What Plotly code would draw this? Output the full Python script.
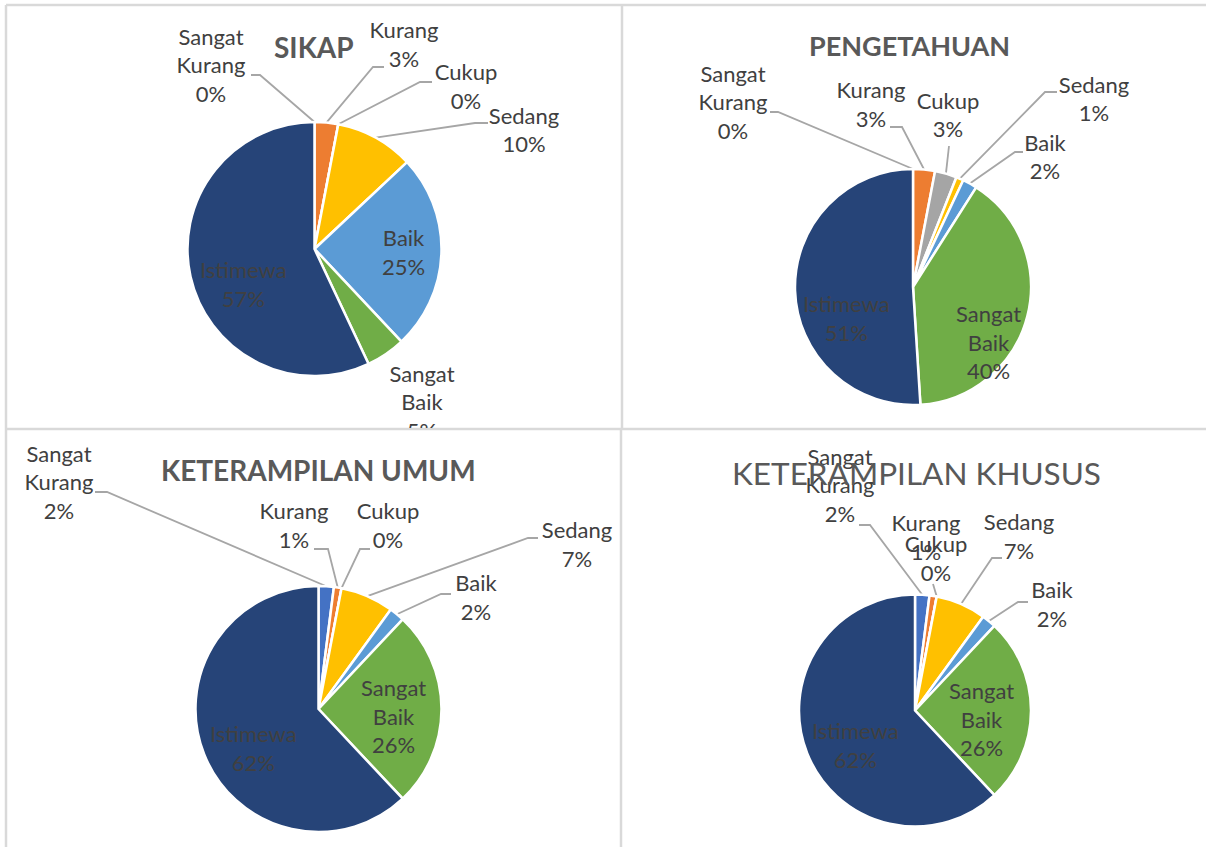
import math
import plotly.graph_objects as go

W, H = 1206, 847

# ---------------- data ----------------
CATEGORIES = ["Sangat Kurang", "Kurang", "Cukup", "Sedang", "Baik", "Sangat Baik", "Istimewa"]
LABEL_TEXT = ["Sangat<br>Kurang", "Kurang", "Cukup", "Sedang", "Baik", "Sangat<br>Baik", "Istimewa"]
SIKAP = [0, 3, 0, 10, 25, 5, 57]
PENGETAHUAN = [0, 3, 3, 1, 2, 40, 51]
KETERAMPILAN_UMUM = [2, 1, 0, 7, 2, 26, 62]
KETERAMPILAN_KHUSUS = [2, 1, 0, 7, 2, 26, 62]
TITLES = ["SIKAP", "PENGETAHUAN", "KETERAMPILAN UMUM", "KETERAMPILAN KHUSUS"]
SERIES = [SIKAP, PENGETAHUAN, KETERAMPILAN_UMUM, KETERAMPILAN_KHUSUS]

# ---------------- style ----------------
COLORS = ["#4472C4", "#ED7D31", "#A5A5A5", "#FFC000", "#5B9BD5", "#70AD47", "#264478"]
FONT = "Lato"
LABEL_COLOR = "#404040"
TITLE_COLOR = "#595959"
LABEL_SIZE = 22
LEADER_COLOR = "#A6A6A6"
BORDER_COLOR = "#D9D9D9"

# layout per panel (pixel units): panel box, pie centre/radius, title, label placement
PANELS = [
    dict(box=(6, 5, 622, 428), c=(314.5, 249), r=127,
         title=(314, 47), tbold=True, tsize=28,
         inside=[4, 6],
         lab={0: (211, 68), 1: (404, 47), 2: (466, 89), 3: (524, 132.5), 4: (404, 252),
              5: (422, 405), 6: (243, 284)},
         lead={0: [(260, 75), (251, 75)], 1: [(373, 67), (384, 67)], 2: [(420, 82), (432, 82)],
               3: [(475, 123), (488, 123)]}),
    dict(box=(622, 5, 1206, 428), c=(913, 287), r=118,
         title=(909, 46), tbold=True, tsize=27,
         inside=[5, 6],
         lab={0: (733, 105), 1: (871, 107), 2: (948, 117.5), 3: (1094, 101.5), 4: (1045, 159.5),
              5: (988, 341.5), 6: (846, 318)},
         lead={0: [(778, 112), (770, 112)], 1: [(902, 127), (890, 127)], 2: [(949, 146)],
               3: [(1045, 92), (1057, 92)], 4: [(1015, 152), (1023, 152)]}),
    dict(box=(6, 430, 621, 847), c=(318.5, 709), r=123,
         title=(318, 470), tbold=True, tsize=28,
         inside=[5, 6],
         lab={0: (59, 485), 1: (294, 528), 2: (388, 528), 3: (577, 547), 4: (476, 600),
              5: (393, 716), 6: (253, 747.5)},
         lead={0: [(107, 492), (95, 492)], 1: [(328, 549), (314, 549)], 2: [(360, 549), (370, 549)],
               3: [(528, 538), (538, 538)], 4: [(441, 594), (451, 594)]}),
    dict(box=(621, 430, 1206, 847), c=(915, 710.5), r=116,
         title=(916, 473), tbold=False, tsize=31.5,
         inside=[5, 6],
         lab={0: (840, 487.7), 1: (926, 540), 2: (936, 561), 3: (1019, 539), 4: (1052, 607),
              5: (981, 718.7), 6: (855, 745)},
         lead={0: [(870, 525), (859, 525)], 2: [(933, 584)],
               3: [(992, 558), (1002, 558)], 4: [(1018, 602), (1028, 602)]}),
]


def px(x):
    return x / W


def py(y):
    return 1 - y / H


fig = go.Figure()
annotations = []
shapes = []

for i, (vals, title, p) in enumerate(zip(SERIES, TITLES, PANELS)):
    cx, cy = p["c"]
    r = p["r"]
    total = sum(vals)
    ax = "" if i == 0 else str(i + 1)

    # pie
    fig.add_trace(go.Pie(
        labels=CATEGORIES, values=vals, sort=False, direction="clockwise", rotation=0,
        marker=dict(colors=COLORS, line=dict(color="white", width=2.5)),
        textinfo="none", hoverinfo="label+percent", showlegend=False,
        domain=dict(x=[px(cx - r), px(cx + r)], y=[py(cy + r), py(cy - r)]),
    ))

    # panel axes in pixel units
    x0, y0, x1, y1 = p["box"]
    fig.update_layout(**{
        "xaxis" + ax: dict(domain=[px(x0), px(x1)], range=[x0, x1], visible=False,
                           fixedrange=True, anchor="y" + ax),
        "yaxis" + ax: dict(domain=[py(y1), py(y0)], range=[y1, y0], visible=False,
                           fixedrange=True, anchor="x" + ax),
    })

    # label texts from data
    texts = [f"{t}<br>{round(v / total * 100)}%" for t, v in zip(LABEL_TEXT, vals)]

    # leader lines from slice edges (angles from data)
    lx, ly = [], []
    cum = 0
    for k, v in enumerate(vals):
        theta = 2 * math.pi * (cum + v / 2) / total
        cum += v
        if k in p["lead"]:
            ex = cx + r * math.sin(theta)
            ey = cy - r * math.cos(theta)
            pts = [(ex, ey)] + p["lead"][k]
            lx += [q[0] for q in pts] + [None]
            ly += [q[1] for q in pts] + [None]
    fig.add_trace(go.Scatter(x=lx, y=ly, mode="lines", xaxis="x" + ax, yaxis="y" + ax,
                             line=dict(color=LEADER_COLOR, width=1.8), hoverinfo="skip",
                             showlegend=False))

    # outside labels (clipped to panel)
    outs = [k for k in range(len(vals)) if k not in p["inside"]]
    fig.add_trace(go.Scatter(
        x=[p["lab"][k][0] for k in outs], y=[p["lab"][k][1] for k in outs],
        text=[texts[k] for k in outs], mode="text", textposition="middle center",
        textfont=dict(family=FONT, size=LABEL_SIZE, color=LABEL_COLOR),
        cliponaxis=True, xaxis="x" + ax, yaxis="y" + ax, hoverinfo="skip", showlegend=False))

    # inside labels
    for k in p["inside"]:
        annotations.append(dict(x=px(p["lab"][k][0]), y=py(p["lab"][k][1]), xref="paper",
                                yref="paper", text=texts[k], showarrow=False,
                                xanchor="center", yanchor="middle",
                                font=dict(family=FONT, size=LABEL_SIZE, color=LABEL_COLOR)))

    # title
    ttxt = f"<b>{title}</b>" if p["tbold"] else title
    annotations.append(dict(x=px(p["title"][0]), y=py(p["title"][1]), xref="paper", yref="paper",
                            text=ttxt, showarrow=False, xanchor="center", yanchor="middle",
                            font=dict(family=FONT, size=p["tsize"], color=TITLE_COLOR)))

# panel borders
BORDERS = [((6, 5), (1206, 5)), ((6, 5), (6, 847)), ((622, 5), (622, 429)),
           ((621, 429), (621, 847)), ((6, 429), (1206, 429))]
for (a, b) in BORDERS:
    shapes.append(dict(type="line", xref="paper", yref="paper", x0=px(a[0]), y0=py(a[1]),
                       x1=px(b[0]), y1=py(b[1]), line=dict(color=BORDER_COLOR, width=2.5),
                       layer="below"))

fig.update_layout(width=W, height=H, margin=dict(l=0, r=0, t=0, b=0),
                  paper_bgcolor="white", plot_bgcolor="rgba(0,0,0,0)",
                  annotations=annotations, shapes=shapes, showlegend=False)

fig.write_html("out.html", config={"displayModeBar": False},
               post_script="document.body.style.margin='0';document.body.style.overflow='hidden';")
